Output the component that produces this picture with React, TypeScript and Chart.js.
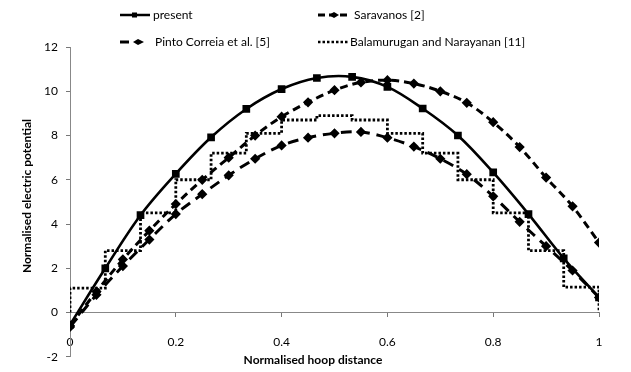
import React, { useEffect, useRef } from "react";
import { Chart, registerables } from "chart.js";

Chart.register(...registerables);

// ---- data ----
const presentX = [0, 0.0667, 0.1333, 0.2, 0.2667, 0.3333, 0.4, 0.4667, 0.5333, 0.6, 0.6667, 0.7333, 0.8, 0.8667, 0.9333, 1];
const presentY = [-0.55, 2.0, 4.4, 6.27, 7.92, 9.2, 10.1, 10.6, 10.65, 10.2, 9.22, 8.0, 6.33, 4.45, 2.45, 0.68];

const refX = [0, 0.05, 0.1, 0.15, 0.2, 0.25, 0.3, 0.35, 0.4, 0.45, 0.5, 0.55, 0.6, 0.65, 0.7, 0.75, 0.8, 0.85, 0.9, 0.95, 1];
const saravanosY = [-0.6, 0.95, 2.4, 3.7, 4.9, 6.0, 7.0, 8.0, 8.85, 9.5, 10.05, 10.4, 10.5, 10.35, 10.0, 9.48, 8.6, 7.48, 6.1, 4.8, 3.16];
const pintoY = [-0.65, 0.8, 2.1, 3.3, 4.45, 5.35, 6.2, 6.95, 7.55, 7.9, 8.1, 8.16, 7.9, 7.5, 6.95, 6.25, 5.25, 4.1, 3.0, 1.9, 0.68];

const stepEdges = [0, 0.0667, 0.1333, 0.2, 0.2667, 0.3333, 0.4, 0.4667, 0.5333, 0.6, 0.6667, 0.7333, 0.8, 0.8667, 0.9333, 1];
const stepY = [1.1, 2.8, 4.5, 6.0, 7.2, 8.1, 8.7, 8.9, 8.7, 8.1, 7.2, 6.0, 4.5, 2.8, 1.15];

const seriesNames = ["present", "Saravanos [2]", "Pinto Correia et al. [5]", "Balamurugan and Narayanan [11]"];
const xTitle = "Normalised hoop distance";
const yTitle = "Normalised electric potential";

const FONT = "Lato, 'Open Sans', sans-serif";

function pts(xs: number[], ys: number[]) {
  return ys.map((y, i) => ({ x: xs[i], y }));
}

function stepPoints() {
  const out = [{ x: stepEdges[0], y: 0 }];
  stepY.forEach((v, i) => out.push({ x: stepEdges[i], y: v }));
  out.push({ x: stepEdges[stepEdges.length - 1], y: 0 });
  return out;
}

const titlePlugin = {
  id: "axisTitles",
  afterDraw(chart: any) {
    const ctx = chart.ctx;
    ctx.save();
    ctx.fillStyle = "#000";
    ctx.font = `bold 12px ${FONT}`;
    ctx.textAlign = "center";
    ctx.textBaseline = "middle";
    ctx.fillText(xTitle, 313, 360);
    ctx.translate(27, 196);
    ctx.rotate(-Math.PI / 2);
    ctx.fillText(yTitle, 0, 0);
    ctx.restore();
  },
};

function LegendSample({ kind }: { kind: number }) {
  if (kind === 0) {
    return (
      <svg width={32} height={10} style={{ display: "block" }}>
        <line x1={1} y1={5} x2={31} y2={5} stroke="#000" strokeWidth={2.5} />
        <rect x={13} y={2.5} width={5} height={5} fill="#000" />
      </svg>
    );
  }
  if (kind === 1) {
    return (
      <svg width={35} height={10} style={{ display: "block" }}>
        <line x1={1} y1={5} x2={34} y2={5} stroke="#000" strokeWidth={3} strokeDasharray="7 4" />
        <polygon points="12,5 17,2 22,5 17,8" fill="#000" />
      </svg>
    );
  }
  if (kind === 2) {
    return (
      <svg width={35} height={10} style={{ display: "block" }}>
        <line x1={1} y1={5} x2={10} y2={5} stroke="#000" strokeWidth={3} />
        <polygon points="14,5 19,2 25,5 19,8" fill="#000" />
      </svg>
    );
  }
  return (
    <svg width={32} height={10} style={{ display: "block" }}>
      <line x1={1} y1={5} x2={31} y2={5} stroke="#000" strokeWidth={2.5} strokeDasharray="2.5 2" />
    </svg>
  );
}

export default function App() {
  const ref = useRef<HTMLCanvasElement | null>(null);

  useEffect(() => {
    if (!ref.current) return;
    Chart.defaults.font.family = FONT;
    const chart = new Chart(ref.current, {
      type: "line",
      data: {
        datasets: [
          {
            label: seriesNames[0],
            data: pts(presentX, presentY),
            borderColor: "#000",
            backgroundColor: "#000",
            borderWidth: 2.6,
            pointStyle: "rect",
            pointRadius: 3.6,
            tension: 0.35,
            fill: false,
          },
          {
            label: seriesNames[1],
            data: pts(refX, saravanosY),
            borderColor: "#000",
            backgroundColor: "#000",
            borderWidth: 3,
            borderDash: [8, 5],
            pointStyle: "rectRot",
            pointRadius: 3,
            tension: 0.35,
            fill: false,
          },
          {
            label: seriesNames[2],
            data: pts(refX, pintoY),
            borderColor: "#000",
            backgroundColor: "#000",
            borderWidth: 3,
            borderDash: [11, 7],
            pointStyle: "rectRot",
            pointRadius: 3,
            tension: 0.35,
            fill: false,
          },
          {
            label: seriesNames[3],
            data: stepPoints(),
            borderColor: "#000",
            backgroundColor: "#000",
            borderWidth: 2.8,
            borderDash: [2.5, 2],
            pointRadius: 0,
            stepped: "before",
            fill: false,
          },
        ],
      },
      options: {
        animation: false,
        responsive: false,
        layout: { padding: { left: 0, right: 32, top: 47, bottom: 8 } },
        plugins: { legend: { display: false }, tooltip: { enabled: false } },
        scales: {
          x: {
            type: "linear",
            min: 0,
            max: 1,
            position: { y: 0 } as any,
            ticks: {
              stepSize: 0.2,
              color: "#000",
              font: { size: 12, family: FONT },
              padding: 18,
              maxRotation: 0,
              callback: (v: any) => String(Number(Number(v).toFixed(1))),
            },
            grid: { drawOnChartArea: false, tickLength: 4, color: "#777" },
            border: { display: true, color: "#888", width: 1 },
          },
          y: {
            type: "linear",
            min: -2,
            max: 12,
            position: "left",
            afterFit: (s: any) => {
              s.width = 70;
            },
            ticks: {
              stepSize: 2,
              color: "#000",
              font: { size: 12, family: FONT },
              padding: 8,
            },
            grid: { drawOnChartArea: false, tickLength: 4, color: "#777" },
            border: { display: true, color: "#888", width: 1 },
          },
        },
      },
      plugins: [titlePlugin],
    });
    return () => chart.destroy();
  }, []);

  const legendItem = (k: number, left: number, top: number, textLeft: number) => (
    <div key={k} style={{ position: "absolute", left, top, height: 14, display: "flex", alignItems: "center" }}>
      <div style={{ width: textLeft - left }}>
        <LegendSample kind={k} />
      </div>
      <span style={{ fontFamily: FONT, fontSize: 12, color: "#000", whiteSpace: "nowrap", lineHeight: "14px" }}>
        {seriesNames[k]}
      </span>
    </div>
  );

  return (
    <div style={{ position: "fixed", left: 0, top: 0, width: 631, height: 372, background: "#fff", overflow: "hidden" }}>
      <canvas ref={ref} width={631} height={372} style={{ position: "absolute", left: 0, top: 0, display: "block" }} />
      {legendItem(0, 119, 8, 153)}
      {legendItem(1, 317, 8, 354)}
      {legendItem(2, 119, 35, 155)}
      {legendItem(3, 317, 35, 350)}
    </div>
  );
}
